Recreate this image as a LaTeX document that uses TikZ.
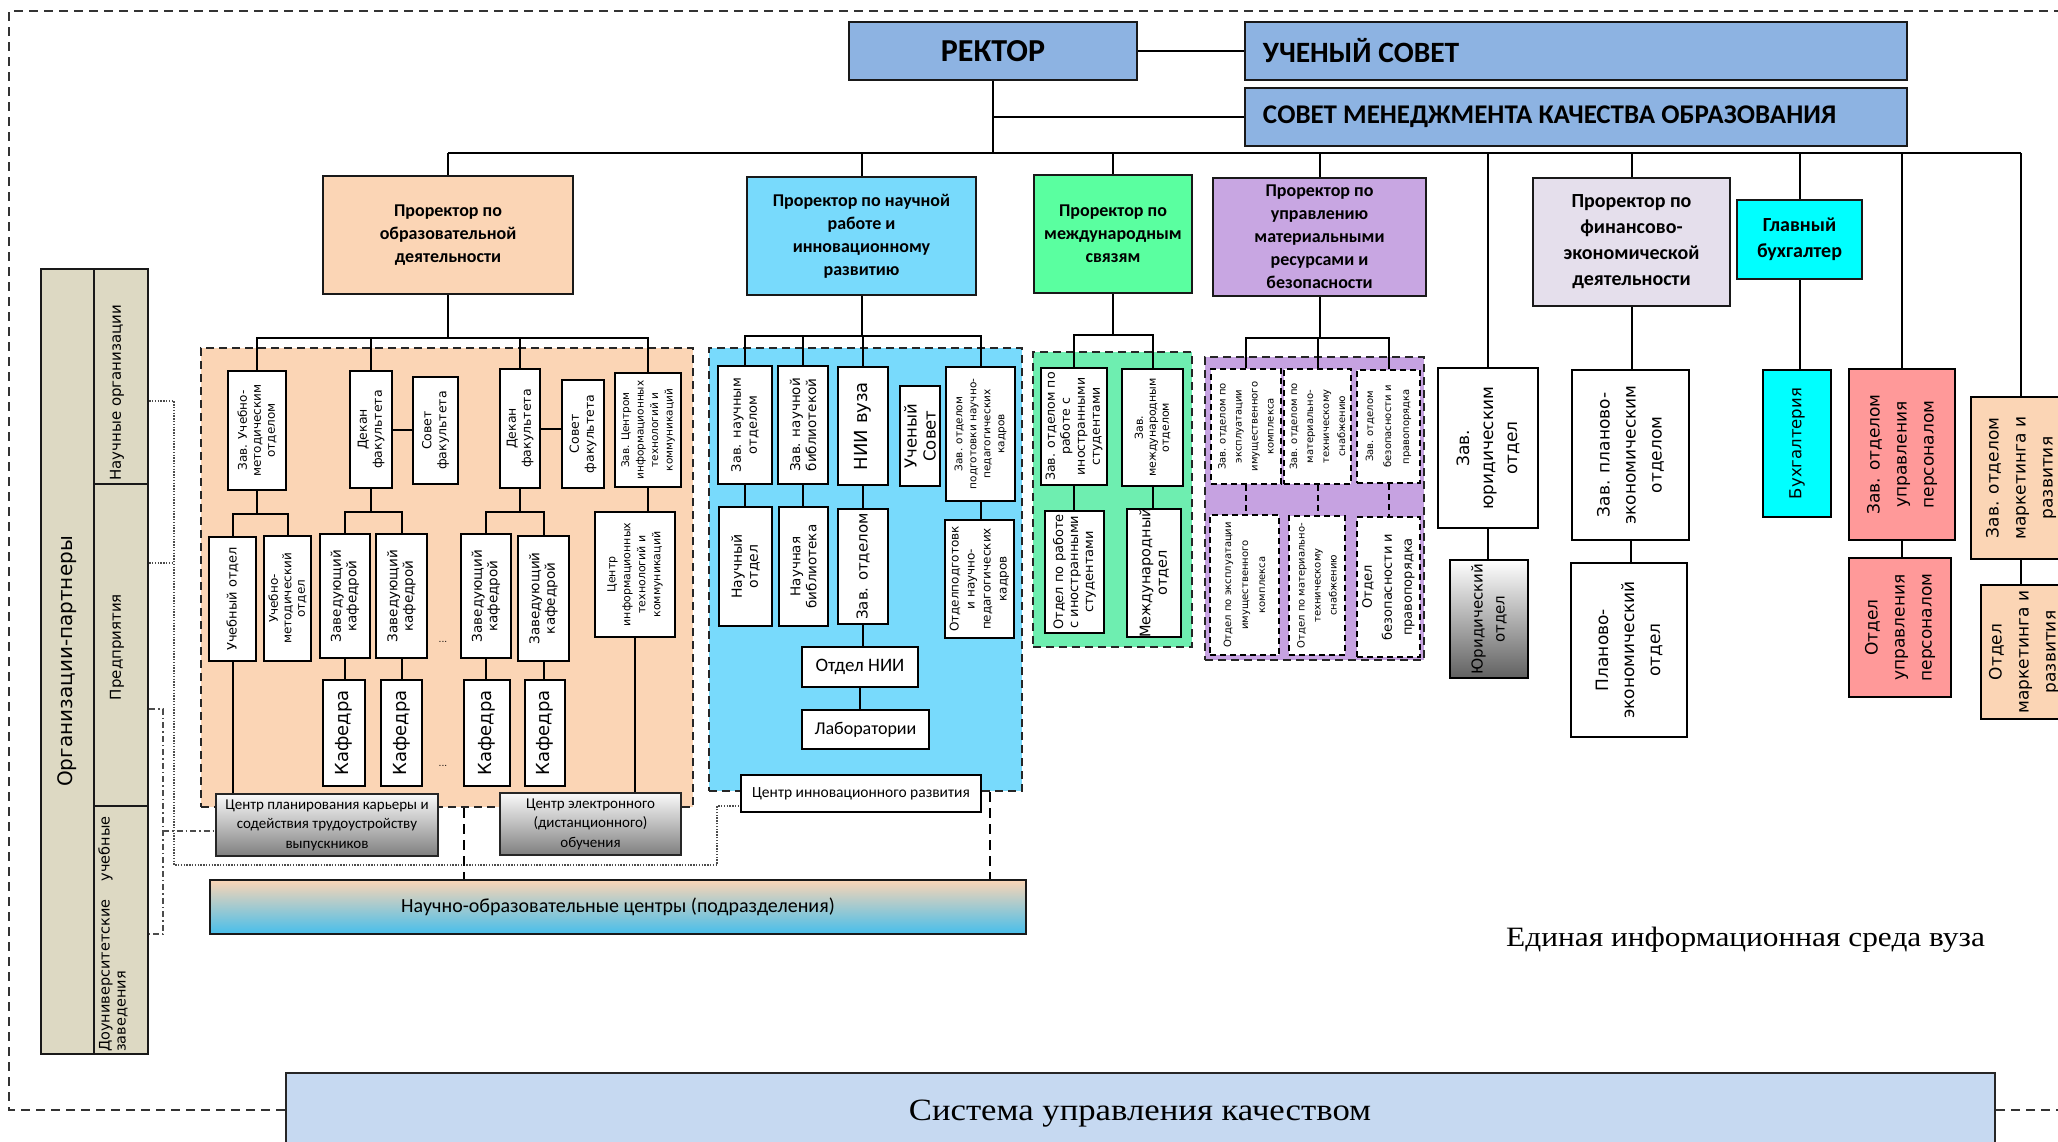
\documentclass[tikz,border=0pt]{standalone}
\usepackage{fontspec}
\setmainfont{DejaVu Sans}
\newfontfamily\calfont{Carlito}
\newfontfamily\serwide[FakeStretch=1.12]{Liberation Serif}
\usetikzlibrary{fit,calc}
\newcommand\fz[2]{\fontsize{#1}{#2}\selectfont}
\newcommand\pfa{\calfont\bfseries\fz{18}{23}}
\newcommand\pfb{\calfont\bfseries\fz{20}{26}}
\definecolor{cBlue}{RGB}{141,179,226}
\definecolor{cPeach}{RGB}{251,213,181}
\definecolor{cSky}{RGB}{120,218,252}
\definecolor{cGreen}{RGB}{90,255,160}
\definecolor{cGreen2}{RGB}{110,238,176}
\definecolor{cLav}{RGB}{200,166,226}
\definecolor{cLav2}{RGB}{198,162,225}
\definecolor{cFin}{RGB}{229,223,236}
\definecolor{cCyan}{RGB}{0,255,255}
\definecolor{cSal}{RGB}{255,153,153}
\definecolor{cOrg}{RGB}{221,217,195}
\definecolor{cSys}{RGB}{198,217,241}
\definecolor{cNocB}{RGB}{70,190,235}
\tikzset{
  hb/.style={draw=black!90, line width=2.5pt, inner sep=0pt},
  bx/.style={draw=black, line width=2pt, fill=white, inner sep=0pt},
  dbx/.style={draw=black, line width=2pt, dash pattern=on 6pt off 4pt, fill=white, inner sep=0pt},
  dblock/.style={draw=black!85, line width=2.5pt, dash pattern=on 8pt off 5pt, inner sep=0pt},
  con/.style={draw=black, line width=2pt},
  dcon/.style={draw=black, line width=2pt, dash pattern=on 6pt off 4pt},
  frame/.style={draw=black!80, line width=1.5pt, dash pattern=on 9pt off 6pt},
  dotl/.style={draw=black!70, line width=1.3pt, dash pattern=on 1.3pt off 1.5pt},
  ddl/.style={draw=black!70, line width=1.3pt, dash pattern=on 6pt off 3pt on 1.5pt off 3pt},
  dashl/.style={draw=black, line width=2pt, dash pattern=on 10pt off 6pt},
  ht/.style={align=center, inner sep=0pt},
  rt/.style={rotate=90, align=center, inner sep=0pt},
  grb/.style={draw=black!85, line width=2pt, inner sep=0pt, top color=white!96!gray, bottom color=black!50},
}
\newcommand\mkbox[7]{%
  \node[#2, fit={(#3) (#4)}] (#1) {};
  \node[#5, font=#6] at (#1.center) {#7};}
\begin{document}
\begin{tikzpicture}[x=1pt,y=-1pt]
\clip (0,0) rectangle (2058,1141);
\fill[white] (0,0) rectangle (2058,1141);

% ---------- dashed blocks
\node[dblock, fill=cPeach, fit={(201,348) (693,807)}] (blkO) {};
\node[dblock, fill=cSky, fit={(709,348) (1022,791)}] (blkN) {};
\node[dblock, fill=cGreen2, fit={(1033,352) (1192,647)}] (blkM) {};
\node[dblock, fill=cLav2, fit={(1205,357) (1424,660)}] (blkR) {};

% ---------- top level
\mkbox{rek}{hb,fill=cBlue}{849,22}{1137,80}{ht}{\calfont\bfseries\fz{32}{34}}{РЕКТОР}
\node[hb,fill=cBlue,fit={(1245,22) (1907,80)}] (us) {};
\node[ht,anchor=west,font=\calfont\bfseries\fz{29.5}{32}] at ([xshift=19pt]us.west) {УЧЕНЫЙ СОВЕТ};
\node[hb,fill=cBlue,fit={(1245,88) (1907,146)}] (smk) {};
\node[ht,anchor=west,font=\calfont\bfseries\fz{27}{30}] at ([xshift=19pt]smk.west) {СОВЕТ МЕНЕДЖМЕНТА КАЧЕСТВА ОБРАЗОВАНИЯ};

% ---------- pro-rectors
\mkbox{pObr}{hb,fill=cPeach}{323,176}{573,294}{ht}{\pfa}{Проректор по\\образовательной\\деятельности}
\mkbox{pNau}{hb,fill=cSky}{747,177}{976,295}{ht}{\pfa}{Проректор по научной\\работе и\\инновационному\\развитию}
\mkbox{pMez}{hb,fill=cGreen}{1034,175}{1192,293}{ht}{\pfa}{Проректор по\\международным\\связям}
\mkbox{pMat}{hb,fill=cLav}{1213,178}{1426,296}{ht}{\pfa}{Проректор по\\управлению\\материальными\\ресурсами и\\безопасности}
\mkbox{pFin}{hb,fill=cFin}{1533,178}{1730,306}{ht}{\pfb}{Проректор по\\финансово-\\экономической\\деятельности}
\mkbox{gBuh}{hb,fill=cCyan}{1737,200}{1862,279}{ht}{\pfb}{Главный\\бухгалтер}

% ---------- educational block
\mkbox{zum}{bx}{228,371}{286,490}{rt}{\fz{12}{14}}{Зав. Учебно-\\методическим\\отделом}
\mkbox{dek1}{bx}{350,371}{392,488}{rt}{\fz{12.5}{15}}{Декан\\факультета}
\mkbox{sov1}{bx}{413,377}{458,484}{rt}{\fz{12.5}{15}}{Совет\\факультета}
\mkbox{dek2}{bx}{500,369}{540,488}{rt}{\fz{12.5}{15}}{Декан\\факультета}
\mkbox{sov2}{bx}{562,380}{604,488}{rt}{\fz{12.5}{15}}{Совет\\факультета}
\mkbox{zci}{bx}{615,373}{681,487}{rt}{\fz{10.5}{14.5}}{Зав. Центром\\информационных\\технологий и\\коммуникаций}
\mkbox{uo}{bx}{209,537}{256,661}{rt}{\fz{13}{15}}{Учебный отдел}
\mkbox{umo}{bx}{264,536}{311,661}{rt}{\fz{12}{13.5}}{Учебно-\\методический\\отдел}
\mkbox{zk1}{bx}{320,534}{370,658}{rt}{\fz{13.5}{15.5}}{Заведующий\\кафедрой}
\mkbox{zk2}{bx}{376,534}{427,658}{rt}{\fz{13.5}{15.5}}{Заведующий\\кафедрой}
\mkbox{zk3}{bx}{461,534}{511,658}{rt}{\fz{13.5}{15.5}}{Заведующий\\кафедрой}
\mkbox{zk4}{bx}{518,536}{569,661}{rt}{\fz{13.5}{15.5}}{Заведующий\\кафедрой}
\mkbox{cit}{bx}{595,512}{675,637}{rt}{\fz{11}{15}}{Центр\\информационных\\технологий и\\коммуникаций}
\mkbox{kaf1}{bx}{323,680}{365,786}{rt}{\fz{18}{20}}{Кафедра}
\mkbox{kaf2}{bx}{381,680}{422,786}{rt}{\fz{18}{20}}{Кафедра}
\mkbox{kaf3}{bx}{464,680}{510,786}{rt}{\fz{18}{20}}{Кафедра}
\mkbox{kaf4}{bx}{525,680}{565,786}{rt}{\fz{18}{20}}{Кафедра}
\node[font=\fz{9}{10}] (dots1) at (443,642) {...};
\node[font=\fz{9}{10}] (dots2) at (443,766) {...};
\mkbox{cpk}{grb}{216,794}{438,856}{ht}{\calfont\fz{15}{19.5}}{Центр планирования карьеры и\\содействия трудоустройству\\выпускников}
\mkbox{cel}{grb}{500,793}{681,855}{ht}{\calfont\fz{15}{19.5}}{Центр электронного\\(дистанционного)\\обучения}

% ---------- science block
\mkbox{zno}{bx}{718,366}{772,484}{rt}{\fz{13}{16}}{Зав. научным\\отделом}
\mkbox{znb}{bx}{778,366}{828,484}{rt}{\fz{13.5}{16}}{Зав. научной\\библиотекой}
\mkbox{nii}{bx}{838,367}{888,485}{rt}{\fz{18}{20}}{НИИ вуза}
\mkbox{usov}{bx}{900,386}{940,486}{rt}{\fz{16.5}{19}}{Ученый\\Совет}
\mkbox{zpk}{bx}{946,367}{1015,501}{rt}{\fz{10.5}{14}}{Зав. отделом\\подготовки научно-\\педагогических\\кадров}
\mkbox{no}{bx}{719,507}{772,626}{rt}{\fz{14}{16}}{Научный\\отдел}
\mkbox{nb}{bx}{779,507}{828,626}{rt}{\fz{13.5}{16}}{Научная\\библиотека}
\mkbox{zo}{bx}{838,509}{888,624}{rt}{\fz{15}{17}}{Зав. отделом}
\mkbox{opk}{bx}{945,520}{1014,638}{rt}{\fz{12}{16}}{Отделподготовк\\и научно-\\педагогических\\кадров}
\mkbox{onii}{bx}{802,647}{918,687}{ht}{\calfont\fz{19}{21}}{Отдел НИИ}
\mkbox{lab}{bx}{802,710}{929,749}{ht}{\calfont\fz{18}{20}}{Лаборатории}
\mkbox{cin}{bx}{741,775}{981,812}{ht}{\calfont\fz{15.5}{18}}{Центр инновационного развития}

% ---------- international block
\mkbox{zoi}{bx}{1041,368}{1107,485}{rt}{\fz{12.5}{15}}{Зав. отделом по\\работе с\\иностранными\\студентами}
\mkbox{zmo}{bx}{1122,369}{1183,486}{rt}{\fz{11}{13}}{Зав.\\международным\\отделом}
\mkbox{ois}{bx}{1045,511}{1104,633}{rt}{\fz{13}{15}}{Отдел по работе\\с иностранными\\студентами}
\mkbox{mo}{bx}{1127,509}{1181,637}{rt}{\fz{14.5}{16.5}}{Международный\\отдел}

% ---------- resources block
\mkbox{r1}{dbx}{1211,369}{1281,484}{rt}{\fz{10}{16}}{Зав. отделом по\\эксплуатации\\имущественного\\комплекса}
\mkbox{r2}{dbx}{1284,369}{1351,484}{rt}{\fz{10}{16}}{Зав. отделом по\\материально-\\техническому\\снабжению}
\mkbox{r3}{dbx}{1357,370}{1420,483}{rt}{\fz{10}{18}}{Зав. отделом\\безопасности и\\правопорядка}
\mkbox{r4}{dbx}{1210,515}{1279,655}{rt}{\fz{10}{17}}{Отдел по эксплуатации\\имущественного\\комплекса}
\mkbox{r5}{dbx}{1289,516}{1345,655}{rt}{\fz{10}{16}}{Отдел по материально-\\техническому\\снабжению}
\mkbox{r6}{dbx}{1357,517}{1420,657}{rt}{\fz{13}{20}}{Отдел\\безопасности и\\правопорядка}

% ---------- right side
\mkbox{zyu}{bx}{1438,368}{1538,528}{rt}{\fz{17}{24}}{Зав.\\юридическим\\отдел}
\mkbox{yu}{draw=black, line width=2pt, inner sep=0pt, top color=white, bottom color=black!62}{1450,560}{1528,678}{rt}{\fz{15}{22}}{Юридический\\отдел}
\mkbox{zpe}{bx}{1572,370}{1689,540}{rt}{\fz{17}{26}}{Зав. планово-\\экономическим\\отделом}
\mkbox{pe}{bx}{1571,563}{1687,737}{rt}{\fz{17}{26}}{Планово-\\экономический\\отдел}
\mkbox{buh}{bx,fill=cCyan}{1763,370}{1831,517}{rt}{\fz{16.5}{19}}{Бухгалтерия}
\mkbox{zup}{bx,fill=cSal}{1849,369}{1955,540}{rt}{\fz{17}{27}}{Зав. отделом\\управления\\персоналом}
\mkbox{oup}{bx,fill=cSal}{1849,558}{1951,697}{rt}{\fz{17}{27}}{Отдел\\управления\\персоналом}
\mkbox{zmr}{bx,fill=cPeach}{1971,397}{2071,559}{rt}{\fz{17}{27}}{Зав. отделом\\маркетинга и\\развития}
\mkbox{omr}{bx,fill=cPeach}{1981,585}{2067,719}{rt}{\fz{17}{27}}{Отдел\\маркетинга и\\развития}

% ---------- partner organisations panel
\mkbox{orgA}{hb,fill=cOrg}{41,269}{94,1054}{rt}{\fz{20}{22}}{Организации-партнеры}
\node[hb,fill=cOrg,fit={(94,269) (148,484)}] (oNO) {};
\node[hb,fill=cOrg,fit={(94,484) (148,806)}] (oPR) {};
\node[hb,fill=cOrg,fit={(94,806) (148,1054)}] (oDU) {};
\node[rt,anchor=west,font=\fz{15}{17}] at (117,481) {Научные организации};
\node[rt,font=\fz{15}{17}] at (117,647) {Предприятия};
\node[rt,anchor=west,align=left,font=\fz{14.5}{16}] at (113,1052) {Доуниверситетские\hspace{18pt}учебные\\заведения};

% ---------- bottom
\mkbox{noc}{hb,top color=cPeach,bottom color=cNocB}{210,880}{1026,934}{ht}{\calfont\fz{20}{22}}{Научно-образовательные центры (подразделения)}
\node[draw=black!85, line width=2.5pt, fill=cSys, inner sep=0pt, fit={(286,1073) (1995,1160)}] (sys) {};
\node[font=\serwide\fz{31}{34}] (systxt) at (1140,1114) {Система управления качеством};
\node[font=\serwide\fz{28}{30}, anchor=west, inner sep=0pt] (eis) at (1506,940) {Единая информационная среда вуза};
\draw[frame] (sys.west |- 0,1110) -- (9,1110) -- (9,11) -- (2070,11);
\draw[frame] (sys.east |- 0,1110) -- (2070,1110);

% ---------- top connectors
\coordinate (busL) at (pObr.north |- 0,153);
\draw[con] (rek.east) -- (us.west);
\draw[con] (rek.south) -- (rek.south |- busL);
\draw[con] (rek.south |- smk.west) -- (smk.west);
\draw[con] (busL) -- (zmr.north |- busL);
\foreach \n in {pObr,pNau,pMez,pMat,pFin,gBuh,zyu,zup,zmr}
  \draw[con] (\n.north) -- (\n.north |- busL);

% educational connectors
\draw[con] (pObr.south) -- (pObr.south |- 0,338);
\draw[con] (zum.north) |- (zci.north |- 0,338) -- (zci.north);
\draw[con] (dek1.north) -- (dek1.north |- 0,338);
\draw[con] (dek2.north) -- (dek2.north |- 0,338);
\draw[con] (dek1.east) -- (sov1.west |- dek1.east);
\draw[con] (dek2.east) -- (sov2.west |- dek2.east);
\draw[con] (zum.south) -- (zum.south |- 0,514);
\draw[con] (uo.north) |- (umo.north |- 0,514) -- (umo.north);
\draw[con] (dek1.south) -- (dek1.south |- 0,512);
\draw[con] (zk1.north) |- (zk2.north |- 0,512) -- (zk2.north);
\draw[con] (dek2.south) -- (dek2.south |- 0,512);
\draw[con] (zk3.north) |- (zk4.north |- 0,512) -- (zk4.north);
\draw[con] (zci.south) -- (zci.south |- cit.north);
\draw[con] (zk1.south) -- (zk1.south |- kaf1.north);
\draw[con] (zk2.south) -- (zk2.south |- kaf2.north);
\draw[con] (zk3.south) -- (zk3.south |- kaf3.north);
\draw[con] (zk4.south) -- (zk4.south |- kaf4.north);
\draw[con] (uo.south) -- (uo.south |- cpk.north);
\draw[con] (cit.south) -- (cit.south |- cel.north);

% science connectors
\draw[con] (pNau.south) -- (pNau.south |- 0,336);
\draw[con] (zno.north) |- (zpk.north |- 0,336) -- (zpk.north);
\draw[con] (znb.north) -- (znb.north |- 0,336);
\draw[con] (nii.north) -- (nii.north |- 0,336);
\draw[con] (zno.south) -- (zno.south |- no.north);
\draw[con] (znb.south) -- (znb.south |- nb.north);
\draw[con] (nii.south) -- (nii.south |- zo.north);
\draw[con] (zpk.south) -- (zpk.south |- opk.north);
\draw[con] (zo.south) -- (zo.south |- onii.north);
\draw[con] (onii.south) -- (onii.south |- lab.north);

% international connectors
\draw[con] (pMez.south) -- (pMez.south |- 0,335);
\draw[con] (zoi.north) |- (zmo.north |- 0,335) -- (zmo.north);
\draw[con] (zoi.south) -- (zoi.south |- ois.north);
\draw[con] (zmo.south) -- (zmo.south |- mo.north);

% resources connectors
\draw[con] (pMat.south) -- (pMat.south |- 0,338);
\draw[con] (r1.north) |- (r3.north |- 0,338) -- (r3.north);
\draw[con] (r2.north) -- (r2.north |- 0,338);
\draw[dcon] (r1.south) -- (r1.south |- r4.north);
\draw[dcon] (r2.south) -- (r2.south |- r5.north);
\draw[dcon] (r3.south) -- (r3.south |- r6.north);

% right connectors
\draw[con] (zyu.south) -- (zyu.south |- yu.north);
\draw[con] (pFin.south) -- (pFin.south |- zpe.north);
\draw[con] (zpe.south) -- (zpe.south |- pe.north);
\draw[con] (gBuh.south) -- (gBuh.south |- buh.north);
\draw[con] (zup.south) -- (zup.south |- oup.north);
\draw[con] (zmr.south) -- (zmr.south |- omr.north);

% partner links
\draw[dotl] (oNO.east |- 0,401) -| (174,865) -| (717,806) -- (cin.west |- 0,806);
\draw[dotl] (oPR.east |- 0,563) -- (174,563);
\draw[ddl] (oPR.east |- 0,709) -| (163,934) -- (oDU.east |- 0,934);
\draw[ddl] (163,831) -- (cpk.west |- 0,831);
\draw[dashl] (blkO.south -| 464,0) -- (noc.north -| 464,0);
\draw[dashl] (blkN.south -| 990,0) -- (noc.north -| 990,0);
\end{tikzpicture}
\end{document}
